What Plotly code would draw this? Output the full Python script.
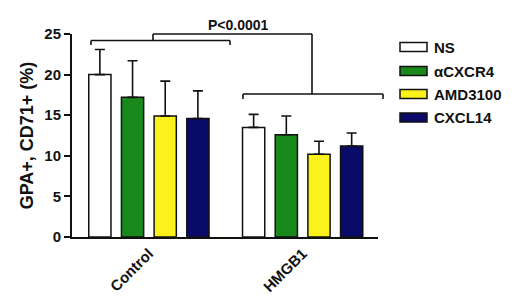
import plotly.graph_objects as go

groups = ["Control", "HMGB1"]
series_names = ["NS", "αCXCR4", "AMD3100", "CXCL14"]
series_colors = ["#ffffff", "#18891a", "#fbf21c", "#0a0a6a"]
means = {
    "NS": [20.0, 13.5],
    "αCXCR4": [17.2, 12.6],
    "AMD3100": [14.9, 10.2],
    "CXCL14": [14.6, 11.2],
}
sd = {
    "NS": [3.1, 1.6],
    "αCXCR4": [4.5, 2.3],
    "AMD3100": [4.3, 1.6],
    "CXCL14": [3.4, 1.6],
}
y_ticks = [0, 5, 10, 15, 20, 25]
p_label = "P<0.0001"

FONT = "Liberation Sans, Arial, sans-serif"

fig = go.Figure()
for name, col in zip(series_names, series_colors):
    fig.add_trace(go.Bar(
        x=groups, y=means[name], name=name,
        marker=dict(color=col, line=dict(color="#111111", width=1.5)),
        error_y=dict(type="data", array=sd[name], arrayminus=[0, 0], symmetric=False,
                     color="#111111", thickness=1.6, width=5),
        showlegend=False,
    ))

# page has an 8px body margin; work in page pixel coords and subtract it
OFF = 8
W, H = 520 - OFF, 303 - OFF
L, R, T, B = 72 - OFF, 378 - OFF, 34 - OFF, 237 - OFF
pw, ph = R - L, B - T

def px(x):
    return (x - OFF - L) / pw

def py(y):
    return (B - (y - OFF)) / ph

shapes = []
def seg(x0, y0, x1, y1):
    shapes.append(dict(type="line", xref="paper", yref="paper",
                       x0=px(x0), y0=py(y0), x1=px(x1), y1=py(y1),
                       line=dict(color="#111111", width=1.6)))

# control bracket
seg(91, 40.5, 230, 40.5)
seg(91, 40.5, 91, 45)
seg(230, 40.5, 230, 45)
# top connector
seg(153, 40.5, 153, 34)
seg(153, 34, 312, 34)
seg(312, 34, 312, 94)
# HMGB1 bracket
seg(243, 94, 383, 94)
seg(243, 94, 243, 99)
seg(383, 94, 383, 99)

annotations = [dict(text="<b>%s</b>" % p_label, xref="paper", yref="paper",
                    x=px(238), y=py(25), xanchor="center", yanchor="middle",
                    showarrow=False,
                    font=dict(family=FONT, size=14, color="#111111"))]

# legend
row_y = [47, 71, 94, 117.5]
for name, col, ry in zip(series_names, series_colors, row_y):
    shapes.append(dict(type="rect", xref="paper", yref="paper",
                       x0=px(400), x1=px(427), y0=py(ry - 4.5), y1=py(ry + 4.5),
                       fillcolor=col, line=dict(color="#111111", width=1.5)))
    annotations.append(dict(text="<b>%s</b>" % name, xref="paper", yref="paper",
                            x=px(432), y=py(ry), xanchor="left", yanchor="middle",
                            showarrow=False,
                            font=dict(family=FONT, size=15, color="#111111")))

fig.update_layout(
    width=W, height=H,
    margin=dict(l=L, r=W - R, t=T, b=H - B),
    paper_bgcolor="white", plot_bgcolor="white",
    barmode="group", bargap=0.15, bargroupgap=0.32,
    showlegend=False,
    shapes=shapes, annotations=annotations,
    font=dict(family=FONT, color="#111111"),
)
fig.update_xaxes(range=[-0.5, 1.49], showline=True, linecolor="#111111", linewidth=2,
                 ticks="", tickangle=-45, showgrid=False, automargin=False,
                 tickfont=dict(family=FONT, size=15, color="#111111"),
                 tickvals=groups, ticktext=["<b>%s</b>" % g for g in groups])
fig.update_yaxes(range=[0, 25], showline=True, linecolor="#111111", linewidth=2,
                 ticks="outside", ticklen=6, tickwidth=2, tickcolor="#111111",
                 tickvals=y_ticks, ticktext=["<b>%d</b>" % v for v in y_ticks],
                 showgrid=False, zeroline=False, automargin=False,
                 tickfont=dict(family=FONT, size=15, color="#111111"),
                 title=dict(text="<b>GPA+, CD71+ (%)</b>", standoff=6,
                            font=dict(family=FONT, size=18, color="#111111")))

fig.write_html("out.html")
